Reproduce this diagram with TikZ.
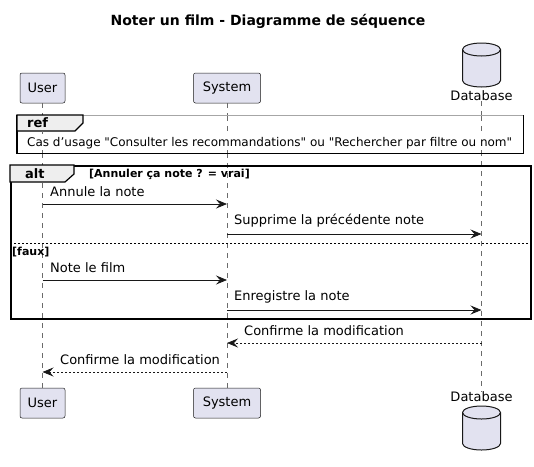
\documentclass[tikz,border=0pt]{standalone}
\usepackage{fontspec}
\setmainfont{DejaVu Sans}
\usetikzlibrary{arrows.meta}
\definecolor{partfill}{HTML}{E2E2F0}
\definecolor{partline}{HTML}{181818}
\definecolor{tabfill}{HTML}{EEEEEE}
\definecolor{lifecol}{HTML}{6A6A6A}
\tikzset{
  x=1pt,y=-1pt,
  participant/.style={draw=partline,fill=partfill,rounded corners=2pt,minimum height=30pt,inner xsep=6pt,font=\fontsize{13}{15}\selectfont,line width=0.5pt},
  lifeline/.style={draw=lifecol,line width=0.5pt,dash pattern=on 5pt off 5pt},
  msg/.style={draw=partline,line width=0.8pt,-{Stealth[length=11pt,width=9pt,inset=4pt]}},
  reply/.style={msg,dash pattern=on 2pt off 2pt},
  msglabel/.style={font=\fontsize{13}{15}\selectfont,anchor=south west,inner sep=0pt},
  frame/.style={draw=black,line width=1.5pt},
  tabtext/.style={font=\bfseries\fontsize{13}{15}\selectfont,inner sep=0pt},
  condtext/.style={font=\bfseries\fontsize{11}{13}\selectfont,inner sep=0pt,anchor=west},
}
\begin{document}
\begin{tikzpicture}
\useasboundingbox (0,0) rectangle (534,466);
% title
\node[font=\bfseries\fontsize{14}{16}\selectfont] (title) at (268,21) {Noter un film - Diagramme de séquence};

% participants top
\node[participant,minimum width=45pt] (u1) at (42.5,88) {User};
\node[participant,minimum width=67pt] (s1) at (227,88) {System};
\node[font=\fontsize{13}{15}\selectfont,inner sep=0pt] (d1) at (481.5,96) {Database};
% participants bottom
\node[participant,minimum width=45pt] (u2) at (42.5,403) {User};
\node[participant,minimum width=67pt] (s2) at (227,403) {System};
\node[font=\fontsize{13}{15}\selectfont,inner sep=0pt] (d2) at (481.5,397) {Database};

% cylinders
\begin{scope}[draw=partline,fill=partfill,line width=1pt]
\draw[fill=partfill] (462.5,49.5) -- (462.5,80.5) arc[start angle=180,end angle=0,x radius=19,y radius=6.5] -- (500.5,49.5) arc[start angle=0,end angle=-180,x radius=19,y radius=6.5] -- cycle;
\draw (462.5,49.5) arc[start angle=180,end angle=0,x radius=19,y radius=6.5];
\draw[fill=partfill] (462.5,412.5) -- (462.5,443.5) arc[start angle=180,end angle=0,x radius=19,y radius=6.5] -- (500.5,412.5) arc[start angle=0,end angle=-180,x radius=19,y radius=6.5] -- cycle;
\draw (462.5,412.5) arc[start angle=180,end angle=0,x radius=19,y radius=6.5];
\end{scope}

% lifelines
\draw[lifeline] (u1.south) -- (u2.north);
\draw[lifeline] (s1.south) -- (s2.north);
\draw[lifeline] (d1.south) -- (d2.north);

% ref frame
\node[fill=white,minimum width=506pt,minimum height=38pt,anchor=north west,inner sep=0pt] (ref) at (17,115) {};
\draw[draw=gray!70,line width=0.6pt] (ref.north west) -- (ref.north east);
\draw[line width=1.4pt] (ref.north east) -- (ref.south east) -- (ref.south west) -- (ref.north west);
\draw[line width=1.2pt,fill=tabfill] (17,115) -- (83,115) -- (83,123) -- (75,131) -- (17,131) -- cycle;
\node[tabtext,anchor=west] (reflbl) at (27,123) {ref};
\node[font=\fontsize{12}{14}\selectfont,anchor=west,inner sep=0pt] (reftext) at (27,143) {Cas d’usage \textquotedbl Consulter les recommandations\textquotedbl{} ou \textquotedbl Rechercher par filtre ou nom\textquotedbl};

% alt frame
\node[frame,minimum width=520pt,minimum height=153pt,anchor=north west,inner sep=0pt] (alt) at (10,165) {};
\draw[line width=1.2pt,fill=tabfill] (10,165) -- (74,165) -- (74,174) -- (65,182) -- (10,182) -- cycle;
\node[tabtext,anchor=west] (altlbl) at (25,173.5) {alt};
\node[condtext] (cond1) at (89,174) {[Annuler ça note ? = vrai]};
\draw[line width=0.8pt,dash pattern=on 2pt off 2pt] (alt.west |- 0,243.5) -- (alt.east |- 0,243.5);
\node[condtext] (cond2) at (12,252) {[faux]};

% lifeline segments over ref box
\draw[lifeline] (42.5,131) -- (42.5,134) (42.5,150) -- (42.5,153);
\draw[lifeline] (227,116) -- (227,121) (227,126) -- (227,131) (227,150) -- (227,153);
\draw[lifeline] (481.5,116) -- (481.5,121) (481.5,126) -- (481.5,131) (481.5,150) -- (481.5,153);

% coordinates for messages
\coordinate (u204) at (42.5,204); \coordinate (s204) at (227,204);
\coordinate (s234) at (227,234); \coordinate (d234) at (481.5,234);
\coordinate (u280) at (42.5,280); \coordinate (s280) at (227,280);
\coordinate (s310) at (227,310); \coordinate (d310) at (481.5,310);
\coordinate (d343) at (481.5,343); \coordinate (s343) at (227,343);
\coordinate (s372) at (227,372); \coordinate (u372) at (42.5,372);

\draw[msg] (u204) -- (s204);
\node[msglabel] (m1) at (50,197) {Annule la note};
\draw[msg] (s234) -- (d234);
\node[msglabel] (m2) at (234,227) {Supprime la précédente note};
\draw[msg] (u280) -- (s280);
\node[msglabel] (m3) at (50,273) {Note le film};
\draw[msg] (s310) -- (d310);
\node[msglabel] (m4) at (234,303) {Enregistre la note};
\draw[reply] (d343) -- (s343);
\node[msglabel] (m5) at (244,336) {Confirme la modification};
\draw[reply] (s372) -- (u372);
\node[msglabel] (m6) at (60,365) {Confirme la modification};
\end{tikzpicture}
\end{document}
